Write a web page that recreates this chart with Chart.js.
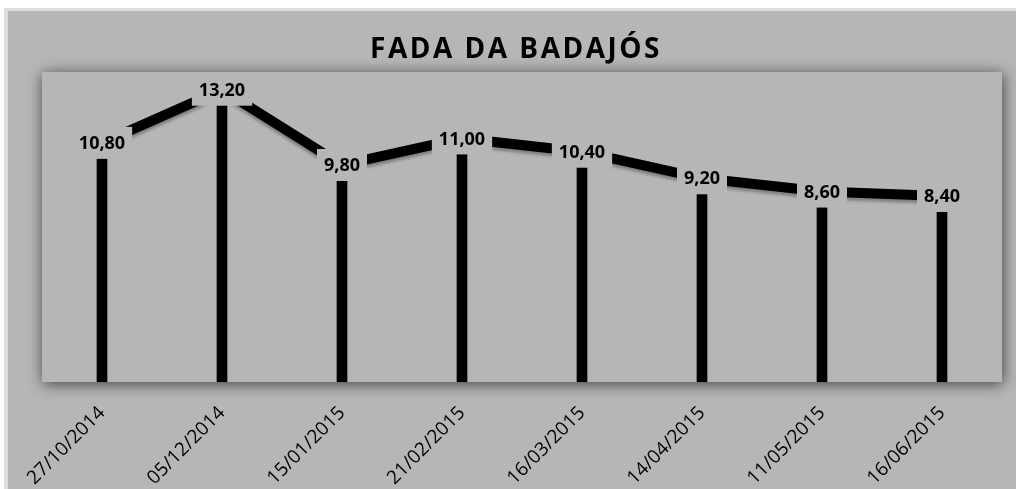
<!DOCTYPE html>
<html>
<head>
<meta charset="utf-8">
<script src="https://cdn.jsdelivr.net/npm/chart.js@4/dist/chart.umd.min.js"></script>
<style>
  html, body { margin: 0; padding: 0; background: #fff; }
  #wrap { width: 1016px; height: 489px; }
</style>
</head>
<body>
<div id="wrap"><canvas id="chart"></canvas></div>
<script>
// data
var title = 'FADA DA BADAJÓS';
var dates = ['27/10/2014', '05/12/2014', '15/01/2015', '21/02/2015', '16/03/2015', '14/04/2015', '11/05/2015', '16/06/2015'];
var values = [10.8, 13.2, 9.8, 11.0, 10.4, 9.2, 8.6, 8.4];
var yMin = 0;
var yMax = 14;

var bg = '#b6b6b6';

function fmt(v) {
    return v.toFixed(2).replace('.', ',');
}

// background, outer frame, plot shadow, title and value labels
var backdrop = {
    id: 'backdrop',
    beforeDraw: function (chart) {
        var c = chart.ctx, a = chart.chartArea;
        c.save();
        c.fillStyle = '#ffffff';
        c.fillRect(0, 0, chart.width, chart.height);
        c.fillStyle = '#dedede';
        c.fillRect(4, 8, chart.width - 4, chart.height - 8);
        c.fillStyle = bg;
        c.fillRect(8, 11, chart.width - 8, chart.height - 11);
        c.shadowColor = 'rgba(0,0,0,0.65)';
        c.shadowBlur = 14;
        c.shadowOffsetX = 1;
        c.shadowOffsetY = 2;
        c.fillRect(a.left, a.top, a.right - a.left, a.bottom - a.top);
        c.restore();

        c.save();
        c.font = 'bold 28px "Open Sans"';
        c.letterSpacing = '2.5px';
        c.fillStyle = '#000';
        c.textAlign = 'center';
        c.textBaseline = 'alphabetic';
        c.fillText(title, 516, 58);
        c.restore();
    },
    beforeDatasetDraw: function (chart, args) {
        if (args.index !== 1) return;
        var c = chart.ctx;
        c.save();
        c.shadowColor = 'rgba(0,0,0,0.3)';
        c.shadowBlur = 3;
        c.shadowOffsetY = 3;
    },
    afterDatasetDraw: function (chart, args) {
        if (args.index !== 1) return;
        chart.ctx.restore();
    },
    afterDatasetsDraw: function (chart) {
        var c = chart.ctx;
        var meta = chart.getDatasetMeta(1);
        c.save();
        c.font = 'bold 18px "Open Sans"';
        c.textAlign = 'center';
        c.textBaseline = 'middle';
        meta.data.forEach(function (pt, i) {
            var txt = fmt(values[i]);
            var w = c.measureText(txt).width + 14;
            c.fillStyle = bg;
            c.fillRect(pt.x - w / 2, pt.y - 16, w, 32);
            c.fillStyle = '#000';
            c.fillText(txt, pt.x, pt.y + 1);
        });
        c.restore();
    }
};

var ctx = document.getElementById('chart').getContext('2d');
var myChart = new Chart(ctx, {
    type: 'bar',
    data: {
        labels: dates,
        datasets: [{
            data: values,
            backgroundColor: '#000',
            barThickness: 10,
            order: 2
        }, {
            type: 'line',
            data: values,
            borderColor: '#000',
            borderWidth: 10,
            borderJoinStyle: 'miter',
            pointRadius: 0,
            tension: 0,
            order: 1
        }]
    },
    options: {
        responsive: true,
        maintainAspectRatio: false,
        animation: false,
        layout: {
            padding: { left: 42, right: 14, top: 72, bottom: 0 }
        },
        plugins: {
            legend: { display: false },
            tooltip: { enabled: false },
            title: { display: false }
        },
        scales: {
            x: {
                grid: { display: false },
                border: { display: false },
                ticks: {
                    color: '#000',
                    font: { family: 'Open Sans', size: 19 },
                    minRotation: 45,
                    maxRotation: 45,
                    padding: 12
                },
                afterFit: function (s) { s.height = 107; }
            },
            y: {
                display: false,
                min: yMin,
                max: yMax
            }
        }
    },
    plugins: [backdrop]
});
</script>
</body>
</html>
